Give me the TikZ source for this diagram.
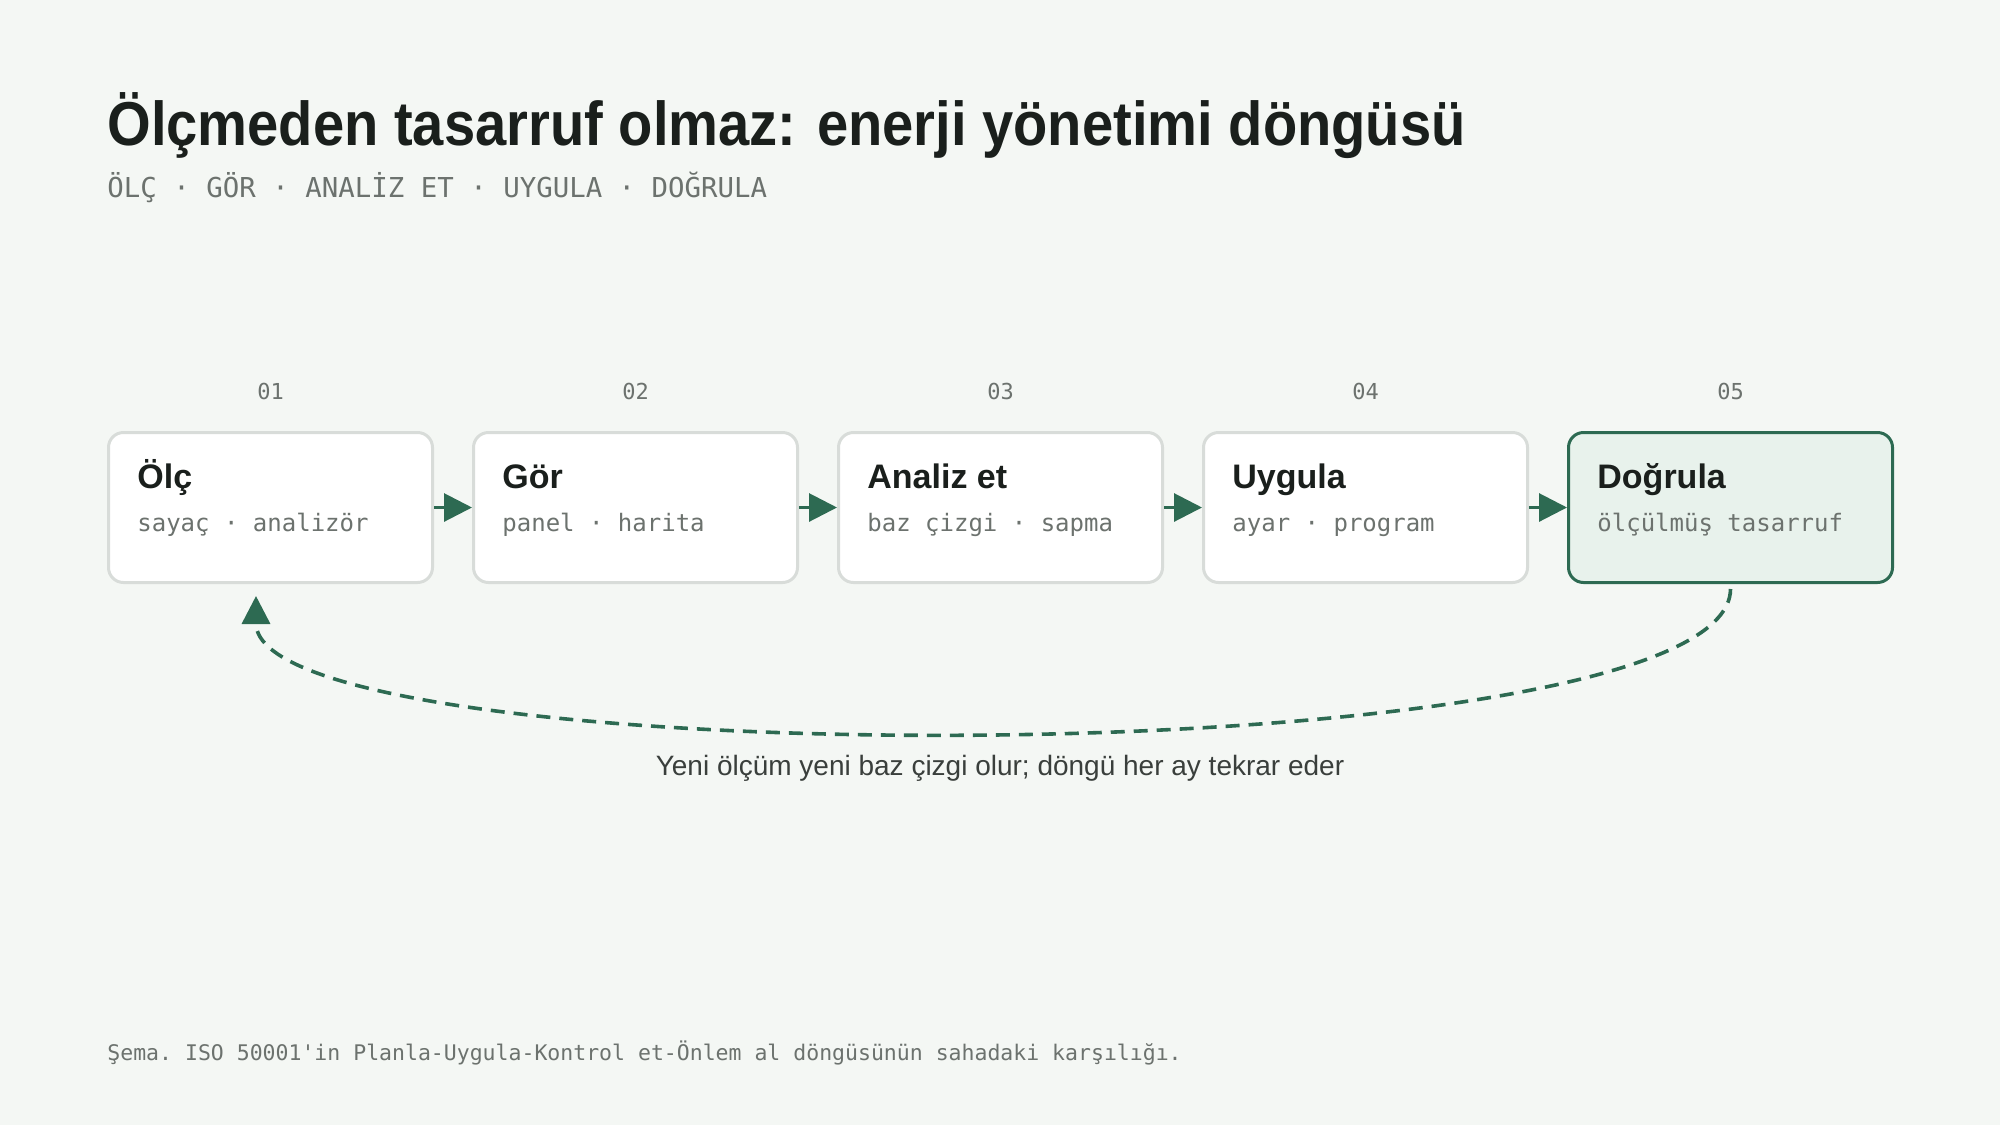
\documentclass[tikz,border=0pt]{standalone}
\usepackage{fontspec}
\setmainfont{Liberation Sans}
\setmonofont{DejaVu Sans Mono}
\newfontfamily\basfont[FakeStretch=0.905]{Liberation Sans}
\usetikzlibrary{positioning,arrows.meta}
\definecolor{zemin}{RGB}{244,247,244}
\definecolor{yesil}{RGB}{45,106,82}
\definecolor{acikyesil}{RGB}{232,242,236}
\definecolor{cerceve}{RGB}{216,220,217}
\definecolor{koyu}{RGB}{26,31,28}
\definecolor{gri}{RGB}{108,114,110}
\definecolor{yazi}{RGB}{58,63,60}
\tikzset{
    kutu/.style={draw=cerceve, line width=1.5pt, fill=white, rounded corners=7.5pt,
        minimum width=162pt, minimum height=75pt, inner sep=0pt},
    sonkutu/.style={kutu, draw=yesil, fill=acikyesil},
    baslik/.style={anchor=base west, inner sep=0pt, text=koyu, font=\fontsize{17pt}{20pt}\selectfont\bfseries},
    altyazi/.style={anchor=base west, inner sep=0pt, text=gri, font=\fontsize{12pt}{14pt}\selectfont\ttfamily},
    numara/.style={inner sep=0pt, text=gri, font=\fontsize{11pt}{13pt}\selectfont\ttfamily},
    akis/.style={draw=yesil, line width=1.5pt, -{Triangle[length=14pt,width=14pt]}},
    donus/.style={draw=yesil, line width=1.8pt, dash pattern=on 7pt off 4.5pt,
        -{Triangle[length=14pt,width=14pt]}}
}

\begin{document}
\begin{tikzpicture}[x=0.5pt, y=-0.5pt, node distance=19pt]
    \useasboundingbox[fill=zemin] (0,0) rectangle (2000,1125);

    % baslik
    \node[anchor=base west, inner sep=0pt, text=koyu, font=\basfont\bfseries\fontsize{31pt}{36pt}\selectfont]
        (anabaslik) at (107,145) {Ölçmeden tasarruf olmaz: enerji yönetimi döngüsü};
    \node[anchor=base west, inner sep=0pt, text=gri, font=\fontsize{13.7pt}{16pt}\selectfont\ttfamily]
        (adimlar) at (107,197) {ÖLÇ · GÖR · ANALİZ ET · UYGULA · DOĞRULA};

    % kutular
    \node[kutu] (olc) at (270.5,507.5) {};
    \node[kutu, right=of olc] (gor) {};
    \node[kutu, right=of gor] (analiz) {};
    \node[kutu, right=of analiz] (uygula) {};
    \node[sonkutu, right=of uygula] (dogrula) {};

    \node[numara] (n1) at ([yshift=20pt]olc.north) {01};
    \node[numara] (n2) at ([yshift=20pt]gor.north) {02};
    \node[numara] (n3) at ([yshift=20pt]analiz.north) {03};
    \node[numara] (n4) at ([yshift=20pt]uygula.north) {04};
    \node[numara] (n5) at ([yshift=20pt]dogrula.north) {05};

    \node[baslik] (b1) at ([xshift=15pt, yshift=-28.5pt]olc.north west) {Ölç};
    \node[altyazi] (a1) at ([xshift=15pt, yshift=-50pt]olc.north west) {sayaç · analizör};
    \node[baslik] (b2) at ([xshift=15pt, yshift=-28.5pt]gor.north west) {Gör};
    \node[altyazi] (a2) at ([xshift=15pt, yshift=-50pt]gor.north west) {panel · harita};
    \node[baslik] (b3) at ([xshift=15pt, yshift=-28.5pt]analiz.north west) {Analiz et};
    \node[altyazi] (a3) at ([xshift=15pt, yshift=-50pt]analiz.north west) {baz çizgi · sapma};
    \node[baslik] (b4) at ([xshift=15pt, yshift=-28.5pt]uygula.north west) {Uygula};
    \node[altyazi] (a4) at ([xshift=15pt, yshift=-50pt]uygula.north west) {ayar · program};
    \node[baslik] (b5) at ([xshift=15pt, yshift=-28.5pt]dogrula.north west) {Doğrula};
    \node[altyazi] (a5) at ([xshift=15pt, yshift=-50pt]dogrula.north west) {ölçülmüş tasarruf};

    % oklar
    \draw[akis] (olc) -- (gor);
    \draw[akis] (gor) -- (analiz);
    \draw[akis] (analiz) -- (uygula);
    \draw[akis] (uygula) -- (dogrula);

    % geri donus
    \coordinate (donusucu) at ([xshift=-7.25pt, yshift=-6pt]olc.south);
    \draw[donus, shorten <=2.5pt] (dogrula.south) .. controls (1730,778) and (256,778) .. (donusucu);
    \node[anchor=base, inner sep=0pt, text=yazi, font=\fontsize{14pt}{16pt}\selectfont]
        (dongu) at (1000,775) {Yeni ölçüm yeni baz çizgi olur; döngü her ay tekrar eder};

    % dipnot
    \node[anchor=base west, inner sep=0pt, text=gri, font=\fontsize{10.75pt}{13pt}\selectfont\ttfamily]
        (dipnot) at (107,1060) {Şema. ISO 50001'in Planla-Uygula-Kontrol et-Önlem al döngüsünün sahadaki karşılığı.};
\end{tikzpicture}
\end{document}
